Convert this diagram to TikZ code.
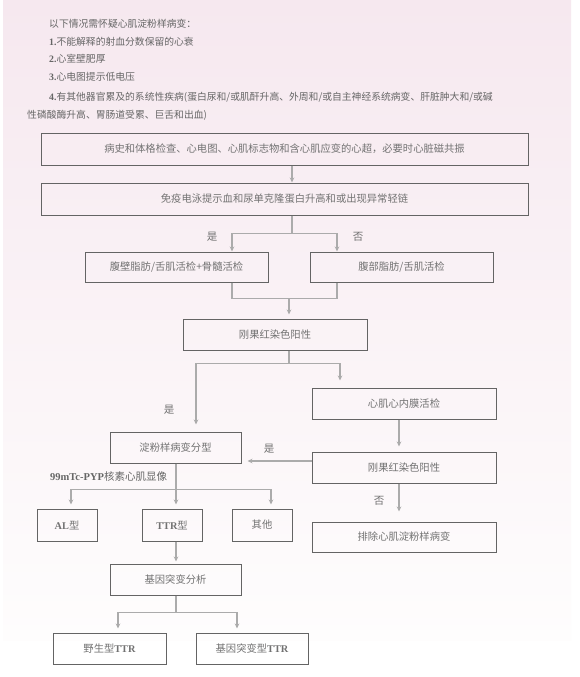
\documentclass[tikz,border=0pt]{standalone}
\usepackage{fontspec}
\setmainfont{Noto Sans CJK SC}
\newfontfamily\latinserif{Liberation Serif}
\usetikzlibrary{arrows.meta}
\definecolor{boxline}{HTML}{646464}
\definecolor{arrowline}{HTML}{ABABAB}
\definecolor{textgray}{HTML}{727272}
\definecolor{notegray}{HTML}{666666}
\definecolor{bgpink}{HTML}{F6E8EF}
\definecolor{bgpale}{HTML}{FEFDFD}
\newcommand{\bfl}[1]{{\latinserif\bfseries #1}}

\begin{document}
\begin{tikzpicture}[x=1pt, y=-1pt,
    box/.style={draw=boxline, line width=1pt, minimum height=31pt, inner sep=0pt,
      text=textgray, font=\fontsize{10.3}{12}\selectfont},
    arr/.style={draw=arrowline, line width=1.4pt, -{Stealth[length=5pt,width=4.5pt]}},
    link/.style={draw=arrowline, line width=1.4pt},
    lbl/.style={text=textgray, inner sep=0pt, font=\fontsize{10.5}{12}\selectfont},
    note/.style={anchor=west, text=notegray, inner sep=0pt, font=\fontsize{9.8}{12}\selectfont}]
    \useasboundingbox (0,0) rectangle (579,677);
    \fill[white] (0,0) rectangle (579,677);
    \shade[top color=bgpink, bottom color=bgpale] (3,0) rectangle (571,640);

    % suspicion list
    \node[note] (line0) at (49,24) {以下情况需怀疑心肌淀粉样病变：};
    \node[note] (line1) at (49,42) {\bfl{1.}不能解释的射血分数保留的心衰};
    \node[note] (line2) at (49,59) {\bfl{2.}心室壁肥厚};
    \node[note] (line3) at (49,77) {\bfl{3.}心电图提示低电压};
    \node[note] (line4) at (49,97) {\bfl{4.}有其他器官累及的系统性疾病(蛋白尿和/或肌酐升高、外周和/或自主神经系统病变、肝脏肿大和/或碱};
    \node[note] (line5) at (27,115) {性磷酸酶升高、胃肠道受累、巨舌和出血)};

    % column positions of the connectors
    \coordinate (cmain) at (292,0);
    \coordinate (cyes) at (232,0);
    \coordinate (cno) at (337,0);
    \coordinate (cmid) at (289,0);
    \coordinate (cleft) at (196,0);
    \coordinate (cright) at (340,0);
    \coordinate (cbio) at (399,0);
    \coordinate (ctype) at (176,0);
    \coordinate (cal) at (71,0);
    \coordinate (coth) at (271,0);
    \coordinate (cwild) at (118,0);
    \coordinate (cmut) at (237,0);
    \coordinate (ryes) at (0,461);

    % boxes
    \node[box, minimum width=487pt, minimum height=32pt] (history) at (284.5,149) {病史和体格检查、心电图、心肌标志物和含心肌应变的心超，必要时心脏磁共振};
    \node[box, minimum width=487pt, minimum height=32pt] (immuno) at (284.5,199) {免疫电泳提示血和尿单克隆蛋白升高和或出现异常轻链};
    \node[box, minimum width=183pt, minimum height=30pt] (fatbm) at (176.5,267) {腹壁脂肪/舌肌活检+骨髓活检};
    \node[box, minimum width=183pt, minimum height=30pt] (fat) at (401.5,267) {腹部脂肪/舌肌活检};
    \node[box, minimum width=184pt] (congoa) at (275,334.5) {刚果红染色阳性};
    \node[box, minimum width=184pt] (biopsy) at (404,403.5) {心肌心内膜活检};
    \node[box, minimum width=184pt] (congob) at (404,467.5) {刚果红染色阳性};
    \node[box, minimum width=131pt] (typing) at (175.5,447.5) {淀粉样病变分型};
    \node[box, minimum width=60pt, minimum height=32pt] (al) at (67,525) {\bfl{AL}型};
    \node[box, minimum width=60pt, minimum height=32pt] (ttr) at (172,525) {\bfl{TTR}型};
    \node[box, minimum width=60pt, minimum height=32pt] (other) at (262,525) {其他};
    \node[box, minimum width=184pt, minimum height=30pt] (exclude) at (404,537) {排除心肌淀粉样病变};
    \node[box, minimum width=131pt] (gene) at (175.5,579.5) {基因突变分析};
    \node[box, minimum width=113pt] (wild) at (109.5,648.5) {野生型\bfl{TTR}};
    \node[box, minimum width=112pt] (mutant) at (252,648.5) {基因突变型\bfl{TTR}};

    % labels
    \node[lbl] (yesa) at (212,237) {是};
    \node[lbl] (noa) at (358,237) {否};
    \node[lbl] (yesb) at (169,410) {是};
    \node[lbl] (yesc) at (269,449) {是};
    \node[lbl] (nob) at (379,501) {否};
    \node[lbl, anchor=west, text=notegray] (pyp) at (50,477) {\bfl{99mTc-PYP}核素心肌显像};

    % connectors
    \draw[arr] (history.south -| cmain) -- (immuno.north -| cmain);
    \draw[link] (immuno.south -| cmain) -- ++(0,18) coordinate (forka);
    \draw[arr] (forka) -| (fatbm.north -| cyes);
    \draw[arr] (forka) -| (fat.north -| cno);
    \draw[link] (fatbm.south -| cyes) -- ++(0,16) coordinate (joina) -| (fat.south -| cno);
    \draw[arr, shorten >=4pt] (joina -| cmid) -- (congoa.north -| cmid);
    \draw[link] (congoa.south -| cmid) -- ++(0,13) coordinate (forkb);
    \draw[arr, shorten >=7pt] (forkb) -| (biopsy.north -| cright);
    \draw[arr, shorten >=7pt] (forkb) -| (typing.north -| cleft);
    \draw[arr, shorten >=5pt] (biopsy.south -| cbio) -- (congob.north -| cbio);
    \draw[arr, shorten >=6pt] (congob.west |- ryes) -- (typing.east |- ryes);
    \draw[arr, shorten >=10pt] (congob.south -| cbio) -- (exclude.north -| cbio);
    \draw[link] (typing.south -| ctype) -- ++(0,26) coordinate (forkc);
    \draw[arr, shorten >=4pt] (forkc) -| (al.north -| cal);
    \draw[arr, shorten >=4pt] (forkc) -- (ttr.north -| ctype);
    \draw[arr, shorten >=4pt] (forkc) -| (other.north -| coth);
    \draw[arr, shorten >=2pt] (ttr.south -| ctype) -- (gene.north -| ctype);
    \draw[link] (gene.south -| ctype) -- ++(0,17) coordinate (forkd);
    \draw[arr, shorten >=4pt] (forkd) -| (wild.north -| cwild);
    \draw[arr, shorten >=4pt] (forkd) -| (mutant.north -| cmut);
\end{tikzpicture}
\end{document}
